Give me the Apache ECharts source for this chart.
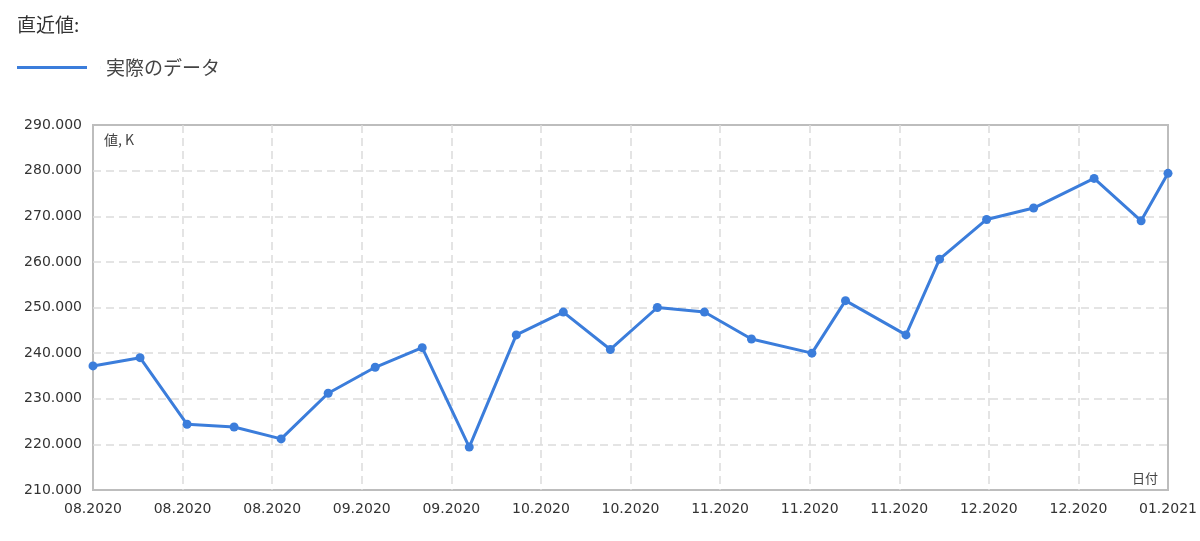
<!DOCTYPE html>
<html>
<head>
<meta charset="utf-8">
<script src="https://cdn.jsdelivr.net/npm/echarts@6/dist/echarts.min.js"></script>
<style>
html,body{margin:0;padding:0;background:#fff;}
#c{width:1200px;height:541px;}
</style>
</head>
<body>
<div id="c"></div>
<script>
// ---- data ----
const dates = [
  '2020-08-01','2020-08-08','2020-08-15','2020-08-22','2020-08-29',
  '2020-09-05','2020-09-12','2020-09-19','2020-09-26',
  '2020-10-03','2020-10-10','2020-10-17','2020-10-24','2020-10-31',
  '2020-11-07','2020-11-16','2020-11-21','2020-11-30',
  '2020-12-05','2020-12-12','2020-12-19','2020-12-28',
  '2021-01-04','2021-01-08'
];
const values = [
  237.2, 239.0, 224.4, 223.8, 221.2,
  231.2, 236.9, 241.2, 219.4,
  244.0, 249.0, 240.8, 250.0, 249.0,
  243.1, 240.0, 251.5, 244.0,
  260.6, 269.3, 271.8, 278.3,
  269.0, 279.4
];
const xTickLabels = ['08.2020','08.2020','08.2020','09.2020','09.2020','10.2020','10.2020',
                     '11.2020','11.2020','11.2020','12.2020','12.2020','01.2021'];
const yMin = 210, yMax = 290, yStep = 10;
const titleText = '直近値:';
const seriesName = '実際のデータ';
const yName = '値, K';
const xName = '日付';

// ---- build ----
const startMs = Date.parse(dates[0]);
const endMs = Date.parse(dates[dates.length - 1]);
const toHours = d => Math.round((Date.parse(d) - startMs) / 3600000);
const xMax = Math.round((endMs - startMs) / 3600000);
const xStep = xMax / (xTickLabels.length - 1);
const seriesData = dates.map((d, i) => [toHours(d), values[i]]);

const numFont = '"DejaVu Sans", Verdana, sans-serif';
const jpFont = '"Noto Sans CJK JP", "DejaVu Sans", sans-serif';
const lineColor = '#3b7ddb';
const gridLine = {show: true, showMinLine: false, showMaxLine: false,
                  lineStyle: {color: '#dcdcdc', width: 1.5, type: [8, 5]}};

const chart = echarts.init(document.getElementById('c'), null, {renderer: 'canvas'});
chart.setOption({
  backgroundColor: '#ffffff',
  animation: false,
  title: {
    text: titleText,
    left: 17, top: 15, padding: 0,
    textStyle: {fontFamily: jpFont, fontSize: 19, fontWeight: 'normal', color: '#333'}
  },
  legend: {
    left: 17, top: 58, padding: 0,
    itemWidth: 84, itemHeight: 3,
    icon: 'path://M0,0H70V3H0Z M83.95,0H84V3H83.95Z',
    textStyle: {fontFamily: jpFont, fontSize: 19, color: '#444'},
    data: [seriesName]
  },
  grid: {
    left: 93, right: 32, top: 125, bottom: 51,
    show: true, borderColor: '#bdbdbd', borderWidth: 2, backgroundColor: 'transparent'
  },
  xAxis: {
    type: 'value',
    min: 0, max: xMax, interval: xStep,
    name: xName,
    nameLocation: 'end',
    nameGap: -10,
    nameTextStyle: {fontFamily: jpFont, fontSize: 13, color: '#444', align: 'right', verticalAlign: 'bottom', padding: [0, 0, 5, 0]},
    axisLine: {show: false},
    axisTick: {show: false},
    axisLabel: {
      fontFamily: numFont, fontSize: 14, color: '#333', margin: 12,
      formatter: v => xTickLabels[Math.round(v / xStep)] || ''
    },
    splitLine: gridLine
  },
  yAxis: {
    type: 'value',
    min: yMin, max: yMax, interval: yStep,
    name: yName,
    nameLocation: 'end',
    nameGap: -15,
    nameTextStyle: {fontFamily: jpFont, fontSize: 14, color: '#444', align: 'left', verticalAlign: 'middle', padding: [0, 0, 0, 11]},
    axisLine: {show: false},
    axisTick: {show: false},
    axisLabel: {
      fontFamily: numFont, fontSize: 14, color: '#333', margin: 11,
      formatter: v => v.toFixed(3)
    },
    splitLine: gridLine
  },
  series: [{
    name: seriesName,
    type: 'line',
    data: seriesData,
    symbol: 'circle',
    symbolSize: 9,
    showAllSymbol: true,
    clip: true,
    lineStyle: {color: lineColor, width: 3},
    itemStyle: {color: lineColor}
  }]
});
</script>
</body>
</html>
